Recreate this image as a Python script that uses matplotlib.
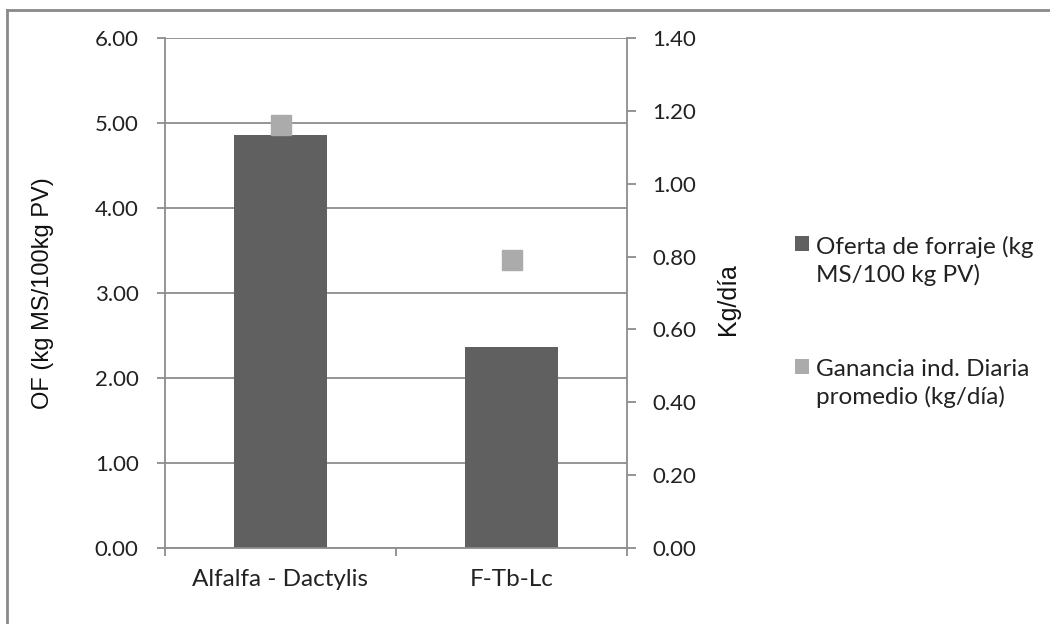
import matplotlib
matplotlib.use("Agg")
import matplotlib.pyplot as plt
from matplotlib.lines import Line2D
from matplotlib.patches import Patch, Rectangle
from matplotlib.legend_handler import HandlerPatch

categories = ["Alfalfa - Dactylis", "F-Tb-Lc"]
oferta = [4.86, 2.37]
ganancia = [1.16, 0.79]
left_ticks = [0, 1, 2, 3, 4, 5, 6]
right_ticks = [0, 0.2, 0.4, 0.6, 0.8, 1.0, 1.2, 1.4]

bar_color = "#606060"
sq_color = "#ababab"
grid_color = "#8c8c8c"
txt_color = "#222222"
tick_font = "Lato"
title_font = "Liberation Sans"

fig = plt.figure(figsize=(10.5, 6.24), dpi=100)
ax = fig.add_axes([165/1050, 1-548/624, 462/1050, 510/624])
x = list(range(len(categories)))
ax.bar(x, oferta, width=0.4, color=bar_color, zorder=2)
ax.set_xlim(-0.5, 1.5)
ax.set_ylim(0, 6)
ax.set_yticks(left_ticks)
ax.set_yticklabels([f"{v:.2f}" for v in left_ticks], fontsize=16, family=tick_font, color=txt_color)
ax.yaxis.grid(True, color=grid_color, lw=1.3, zorder=0)
ax.set_axisbelow(True)
ax.set_xticks(x)
ax.set_xticklabels(categories, fontsize=17.5, family=tick_font, color=txt_color)
ax.set_xticks([-0.5, 0.5, 1.5], minor=True)
ax.tick_params(axis="x", which="major", length=0, pad=15)
ax.tick_params(axis="x", which="minor", length=6, color=grid_color, width=1.3)
ax.tick_params(axis="y", length=6, color=grid_color, width=1.3, pad=13)
for s in ["top", "right"]:
    ax.spines[s].set_visible(False)
for s in ["left", "bottom"]:
    ax.spines[s].set_color(grid_color)
    ax.spines[s].set_linewidth(1.3)

ax2 = ax.twinx()
ax2.plot(x, ganancia, linestyle="none", marker="s", markersize=15, color=sq_color, zorder=3)
ax2.set_ylim(0, 1.4)
ax2.set_yticks(right_ticks)
ax2.set_yticklabels([f"{v:.2f}" for v in right_ticks], fontsize=16, family=tick_font, color=txt_color)
ax2.tick_params(axis="y", length=6.5, color=grid_color, width=1.3, pad=12)
for s in ["top", "left", "bottom"]:
    ax2.spines[s].set_visible(False)
ax2.spines["right"].set_color(grid_color)
ax2.spines["right"].set_linewidth(1.3)

fig.text(43/1050, 1-293/624, "OF (kg MS/100kg PV)", rotation=90, ha="center", va="center",
         fontsize=17, family=title_font, color="#111111")
fig.text(728/1050, 1-299/624, "Kg/día", rotation=90, ha="center", va="center",
         fontsize=18, family=title_font, color="#111111")

# legend with handles aligned to first text line
def first_line_square(legend, orig_handle, xdescent, ydescent, width, height, fontsize):
    return Rectangle((-xdescent, -ydescent + 0.7 * fontsize), width, height)

handles = [Patch(facecolor=bar_color, edgecolor="none"),
           Patch(facecolor=sq_color, edgecolor="none")]
labels = ["Oferta de forraje (kg\nMS/100 kg PV)", "Ganancia ind. Diaria\npromedio (kg/día)"]
leg = fig.legend(handles, labels, loc="center left", bbox_to_anchor=(795/1050, 1-322/624),
                 frameon=False, prop={"family": tick_font, "size": 17.5},
                 handlelength=0.58, handleheight=0.58, handletextpad=0.3,
                 labelspacing=3.0, borderpad=0, borderaxespad=0,
                 handler_map={Patch: HandlerPatch(patch_func=first_line_square)})
for t in leg.get_texts():
    t.set_color(txt_color)
    t.set_linespacing(1.35)

# outer border (only top and left visible in reference)
fig.add_artist(Line2D([7/1050, 7/1050], [0, 1-10/624], transform=fig.transFigure, color="#8a8a8a", lw=2))
fig.add_artist(Line2D([7/1050, 1], [1-10/624, 1-10/624], transform=fig.transFigure, color="#8a8a8a", lw=2))

fig.savefig("out.png", dpi=100)
